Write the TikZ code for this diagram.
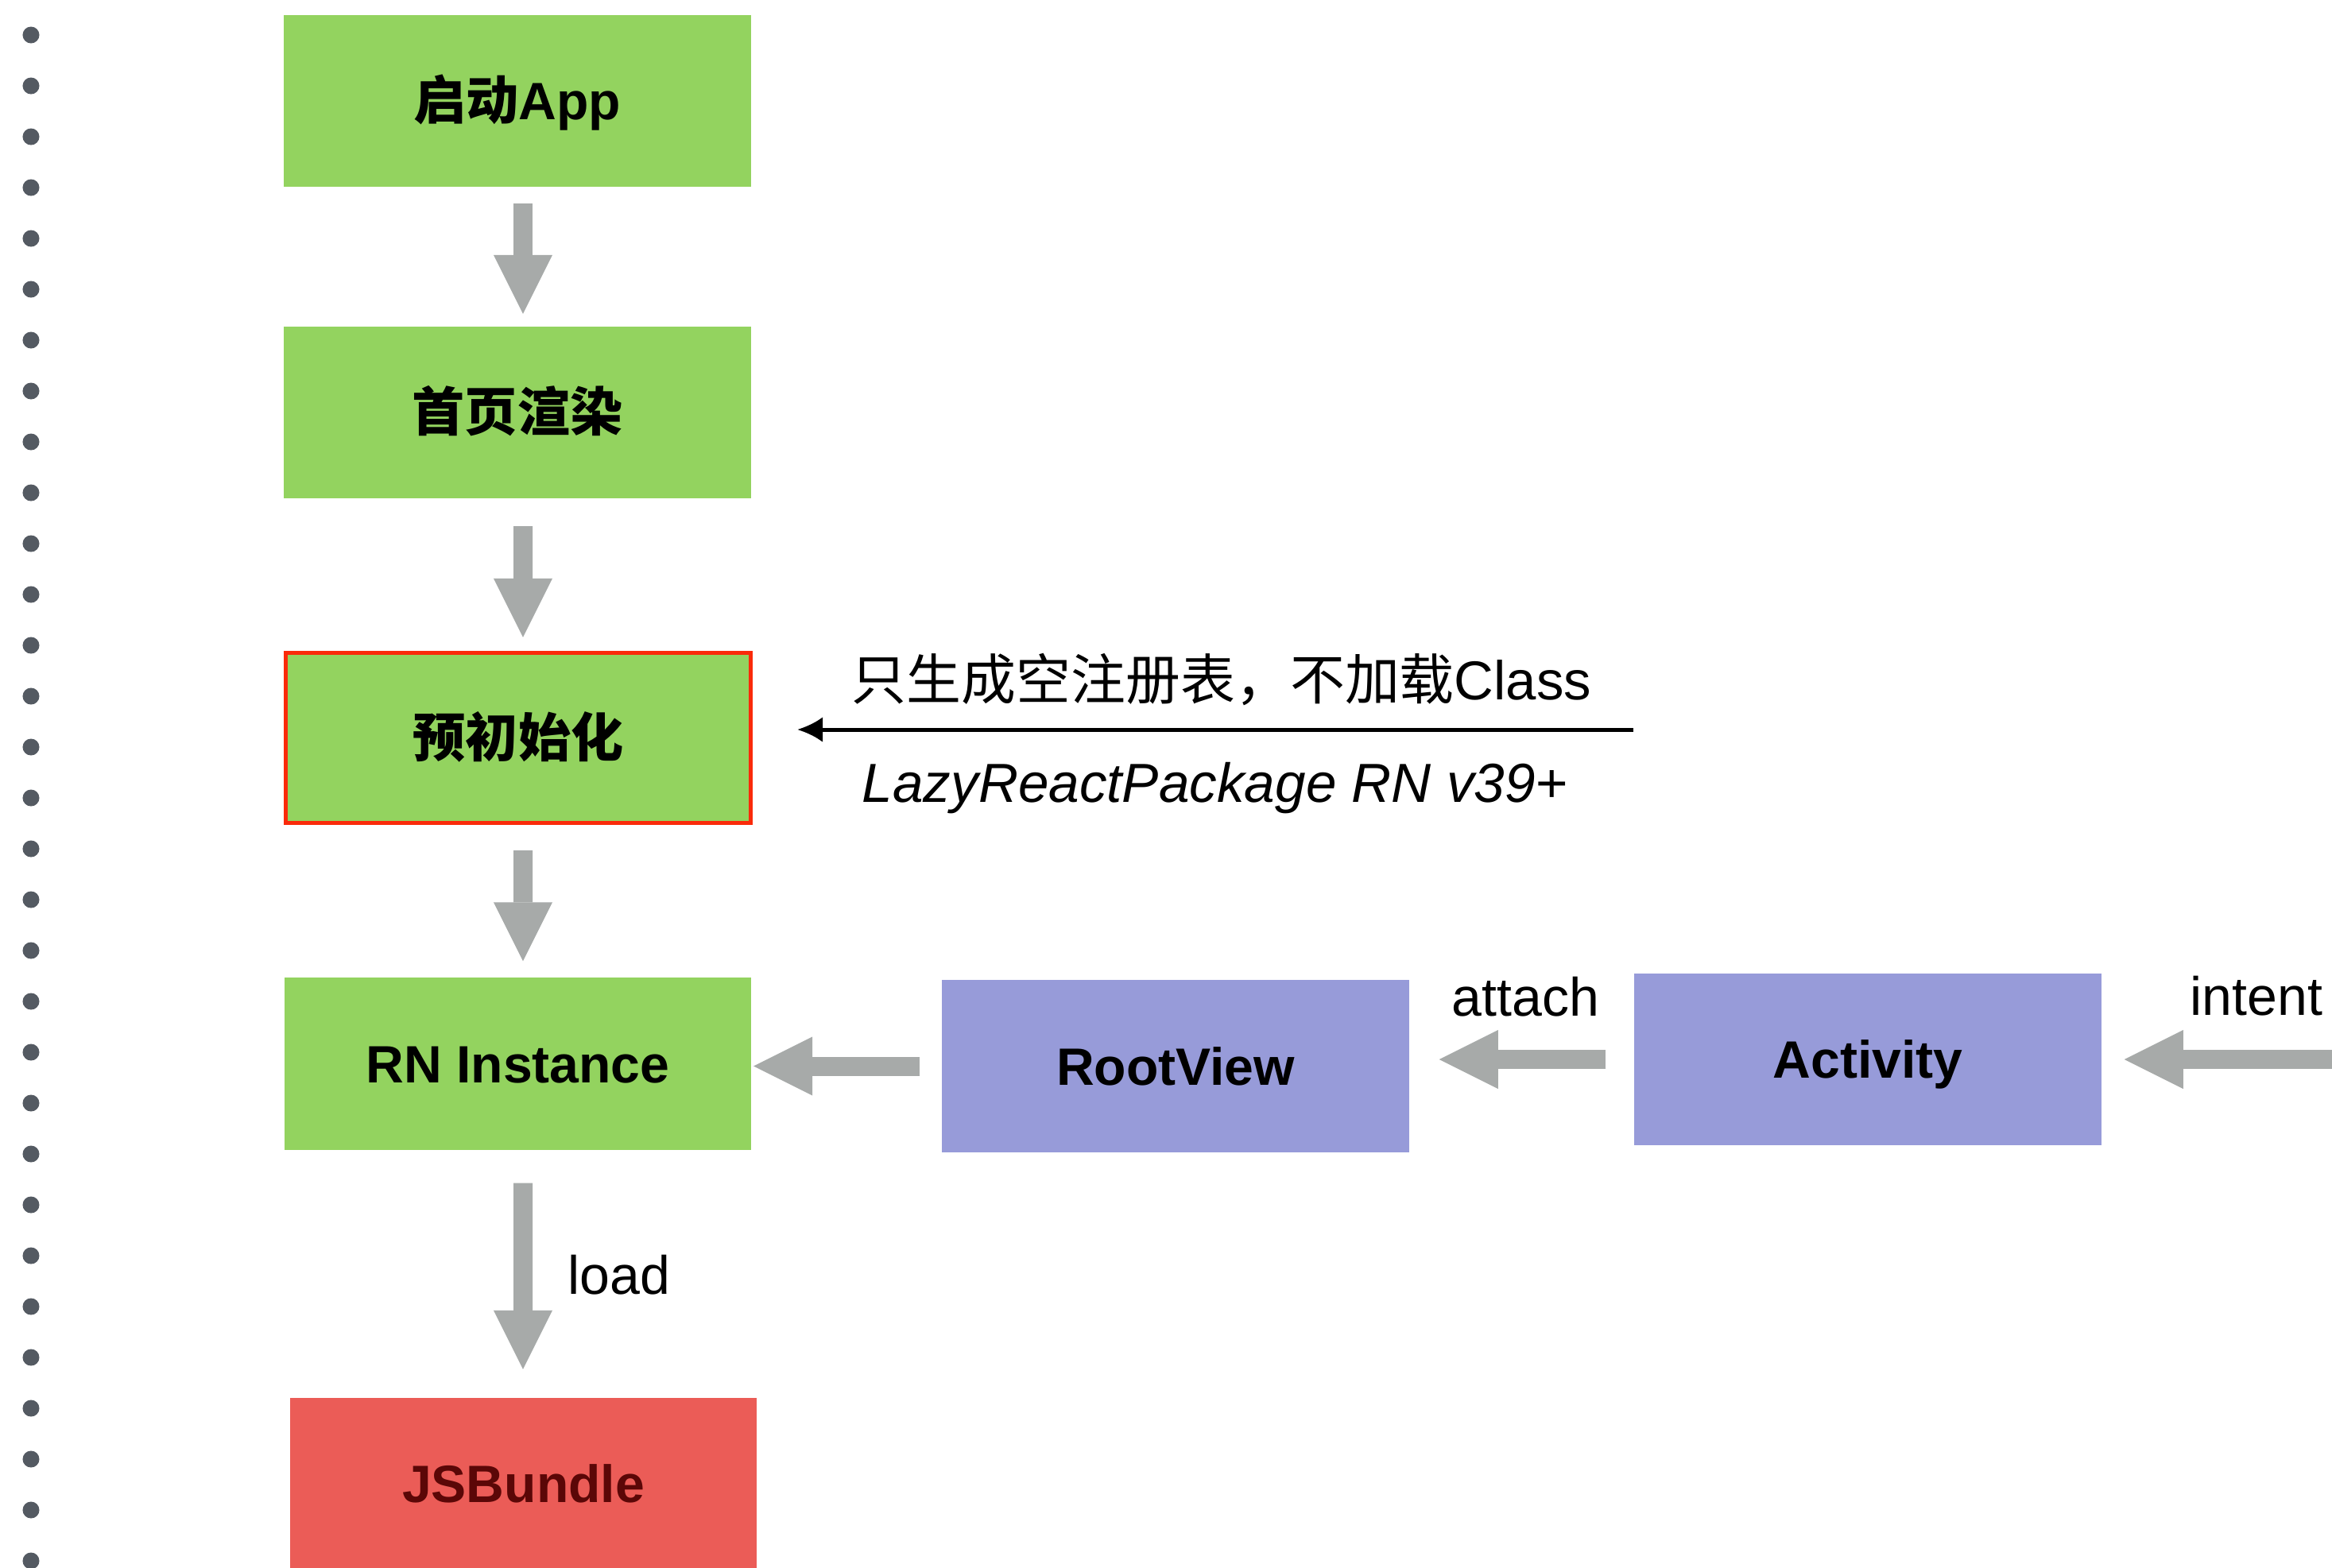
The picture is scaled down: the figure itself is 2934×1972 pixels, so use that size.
\documentclass[tikz,border=0pt]{standalone}
\usepackage{fontspec}
\setmainfont{Liberation Sans}
\newfontfamily\cjk{Noto Sans CJK SC}
\usetikzlibrary{arrows.meta}

\definecolor{boxgreen}{HTML}{93D35F}
\definecolor{boxpurple}{HTML}{979BD9}
\definecolor{boxred}{HTML}{EB5C57}
\definecolor{textred}{HTML}{5B0707}
\definecolor{borderred}{HTML}{FA2A0A}
\definecolor{arrowgray}{HTML}{A7AAA9}
\definecolor{dotgray}{HTML}{545A62}

\tikzset{
  box/.style={minimum width=5.87cm, minimum height=2.16cm, inner sep=0pt, outer sep=0pt,
    text height=13.46pt, text depth=0pt,
    font=\bfseries\fontsize{18.8pt}{22pt}\selectfont},
  lbl/.style={inner sep=0pt, font=\fontsize{19.35pt}{23pt}\selectfont},
  blockarrow/.style={draw=arrowgray, line width=0.24cm,
    -{Triangle[length=0.74cm,width=0.74cm,line width=0pt]}},
  thinarrow/.style={draw=black, line width=0.05cm,
    -{Latex[length=0.32cm,width=0.32cm]}}
}

\begin{document}
\begin{tikzpicture}[x=0.01cm,y=-0.01cm]
\useasboundingbox (0,0) rectangle (2934,1972);
\fill[white] (0,0) rectangle (2934,1972);

% dotted rule on the left edge
\foreach \k in {0,...,30}
  \fill[dotgray] (39,{44+64*\k}) circle[radius=0.105cm];

% main flow
\node[box, fill=boxgreen] (b1) at (651,127) {{\cjk 启动}App};
\node[box, fill=boxgreen] (b2) at (651,519) {\cjk 首页渲染};
\node[box, fill=boxgreen, draw=borderred, line width=0.05cm,
      minimum width=5.85cm, minimum height=2.14cm, outer sep=0.025cm] (b3) at (652,928.5) {\cjk 预初始化};
\node[box, fill=boxgreen] (b4) at (651.5,1338.5) {RN Instance};
\node[box, fill=boxred, text=textred] (b5) at (658.5,1867) {JSBundle};

% view side
\node[box, fill=boxpurple] (rv) at (1479,1341.5) {RootView};
\node[box, fill=boxpurple] (act) at (2350,1333) {Activity};

% vertical block arrows
\draw[blockarrow] ([xshift=0.07cm,yshift=-0.21cm]b1.south) -- ([xshift=0.07cm,yshift=0.16cm]b2.north);
\draw[blockarrow] ([xshift=0.07cm,yshift=-0.35cm]b2.south) -- ([xshift=0.06cm,yshift=0.17cm]b3.north);
\draw[blockarrow] ([xshift=0.06cm,yshift=-0.32cm]b3.south) -- ([xshift=0.065cm,yshift=0.21cm]b4.north);
\draw[blockarrow] ([xshift=0.065cm,yshift=-0.42cm]b4.south) -- ([xshift=-0.005cm,yshift=0.36cm]b5.north);
\node[lbl, anchor=base west] (tload) at (714,1628) {load};

% horizontal block arrows
\draw[blockarrow] ([xshift=-0.28cm]rv.west) -- ([xshift=0.03cm]b4.east |- rv.west);
\draw[blockarrow] ([xshift=-0.36cm]act.west) -- ([xshift=0.38cm]rv.east |- act.west);
\coordinate (intentsrc) at (2934,1333);
\draw[blockarrow] (intentsrc) -- ([xshift=0.29cm]act.east);
\node[lbl, anchor=base west] (tattach) at (1826,1278) {attach};
\node[lbl, anchor=base west] (tintent) at (2755,1277) {intent};

% lazy package registration
\coordinate (lazysrc) at (2055,918);
\draw[thinarrow] (lazysrc) -- ([xshift=0.56cm]b3.east |- lazysrc);
\node[lbl, anchor=base west, font=\fontsize{19.6pt}{23pt}\selectfont] (tlazy1) at (1071,880) {{\cjk 只生成空注册表，不加载}Class};
\node[lbl, anchor=base west, font=\itshape\fontsize{19.7pt}{23pt}\selectfont] (tlazy2) at (1084,1009) {LazyReactPackage RN v39+};
\end{tikzpicture}
\end{document}
